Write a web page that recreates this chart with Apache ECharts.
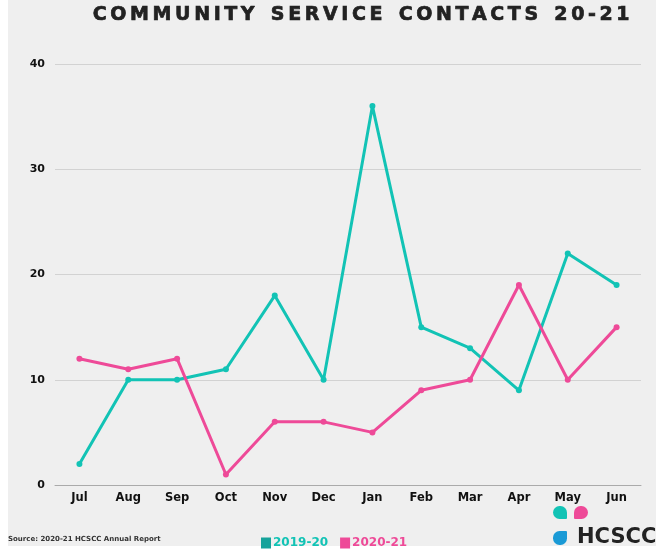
<!DOCTYPE html>
<html>
<head>
<meta charset="utf-8">
<script src="https://cdn.jsdelivr.net/npm/echarts@6/dist/echarts.min.js"></script>
<style>
html,body{margin:0;padding:0;}
body{width:656px;height:552px;background:linear-gradient(#efefef,#efefef) 8px 0 / 648px 546px no-repeat,#ffffff;}
#c{width:656px;height:552px;}
</style>
</head>
<body>
<div id="c"></div>
<script>
const TITLE = 'COMMUNITY SERVICE CONTACTS 20-21';
const SOURCE = 'Source: 2020-21 HCSCC Annual Report';
const LOGO_TEXT = 'HCSCC';
const months = ['Jul','Aug','Sep','Oct','Nov','Dec','Jan','Feb','Mar','Apr','May','Jun'];
const seriesNames = ['2019-20','2020-21'];
const values1920 = [2,10,10,11,18,10,36,15,13,9,22,19];
const values2021 = [12,11,12,1,6,6,5,9,10,19,10,15];
const yTicks = [0,10,20,30,40];

const TEAL = '#12c3b5', PINK = '#ee4a98', BLUE = '#1a9ad6';

const titleRich = TITLE.split('').map(ch => ch === ' ' ? '{s| }' : '{c|' + ch + '}').join('');
const tStyle = {fontFamily:'DejaVu Sans', fontWeight:'bold', fontSize:19, color:'#222222', textBorderColor:'#222222', textBorderWidth:0.7};

const chart = echarts.init(document.getElementById('c'), null, {renderer:'canvas'});
chart.setOption({
  backgroundColor: 'transparent',
  animation: false,
  title: {
    text: titleRich,
    left: 91, top: 6, padding: 0,
    textStyle: {
      rich: {
        c: Object.assign({}, tStyle, {padding:[0,1.8]}),
        s: Object.assign({}, tStyle, {padding:[0,3]})
      }
    }
  },
  legend: {
    data: [
      {name: seriesNames[0], itemStyle:{color:'#17a39b'}, textStyle:{color:TEAL}},
      {name: seriesNames[1], itemStyle:{color:PINK}, textStyle:{color:PINK}}
    ],
    left: 256, top: 532,
    icon: 'rect', itemWidth: 10, itemHeight: 11, itemGap: 12,
    textStyle: {fontFamily:'DejaVu Sans', fontWeight:'bold', fontSize:12, padding:[0,0,0,-3]}
  },
  grid: {left:55, right:15, top:64, bottom:67, containLabel:false},
  xAxis: {
    type:'category', data: months, boundaryGap: true,
    axisLine:{lineStyle:{color:'#aaaaaa', width:1}},
    axisTick:{show:false},
    axisLabel:{color:'#111111', fontFamily:'DejaVu Sans', fontWeight:'bold', fontSize:11.5, margin:7}
  },
  yAxis: {
    type:'value', min: yTicks[0], max: yTicks[yTicks.length-1], interval: 10,
    axisLine:{show:false}, axisTick:{show:false},
    splitLine:{lineStyle:{color:'#d2d2d2', width:1}},
    axisLabel:{color:'#111111', fontFamily:'DejaVu Sans', fontWeight:'bold', fontSize:11, margin:10}
  },
  series: [
    {name: seriesNames[0], type:'line', data: values1920, color: TEAL,
     symbol:'circle', symbolSize:6, lineStyle:{width:3, color:TEAL}, itemStyle:{color:TEAL}},
    {name: seriesNames[1], type:'line', data: values2021, color: PINK,
     symbol:'circle', symbolSize:6, lineStyle:{width:3, color:PINK}, itemStyle:{color:PINK}}
  ],
  graphic: [
    {type:'text', left:8, top:536, style:{text: SOURCE, fill:'#333333', font:'bold 7px "DejaVu Sans"'}},
    {type:'rect', shape:{x:553, y:506, width:14, height:13, r:[6.5,6.5,1,6.5]}, style:{fill:TEAL}},
    {type:'rect', shape:{x:574, y:506, width:14, height:13, r:[6.5,6.5,6.5,1]}, style:{fill:PINK}},
    {type:'rect', shape:{x:553, y:531, width:14, height:14, r:[6.5,1,6.5,6.5]}, style:{fill:BLUE}},
    {type:'text', left:577, top:527, style:{text: LOGO_TEXT, fill:'#222222', font:'bold 21px "DejaVu Sans"'}}
  ]
});
</script>
</body>
</html>
